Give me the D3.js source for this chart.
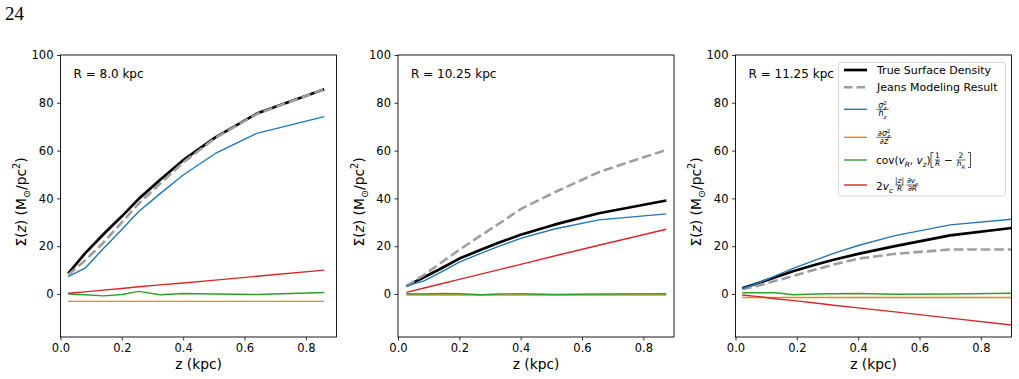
<!DOCTYPE html>
<html>
<head>
<meta charset="utf-8">
<script src="https://cdn.jsdelivr.net/npm/d3@7"></script>
<style>
  body { margin: 0; background: #fff; }
  svg { display: block; font-family: "DejaVu Sans", sans-serif; }
</style>
</head>
<body>
<div id="chart"></div>
<script>
// values, one set of arrays per panel
const z8 = [0.025, 0.08, 0.14, 0.2, 0.255, 0.325, 0.4, 0.505, 0.64, 0.86];
const true8 = [8.5, 17, 25, 32.5, 39.8, 47.8, 56, 65.5, 75.5, 85.7];
const jeans8 = [8, 14, 21.5, 30, 37.8, 46.2, 55, 65.3, 75.3, 85.7];
const sigma8 = [7.3, 10.8, 19, 27, 34.5, 42, 49.8, 58.8, 67.2, 74.2];
const dsig8 = [-3.1, -3.1, -3.1, -3.1, -3.1, -3.1, -3.1, -3.1, -3.1, -3.1];
const cov8 = [0, -0.3, -0.8, -0.2, 1.1, -0.3, 0.2, 0, -0.2, 0.6];
const vc8 = [0.3, 0.9, 1.6, 2.3, 3.0, 3.8, 4.6, 5.8, 7.4, 10.0];

const z10 = [0.027, 0.085, 0.145, 0.2, 0.27, 0.33, 0.4, 0.51, 0.655, 0.875];
const true10 = [3.3, 7, 11, 14.8, 18.5, 21.5, 24.8, 29, 33.8, 39.1];
const jeans10 = [3.3, 8, 13.5, 18.5, 24.5, 29.5, 35.5, 42.5, 51, 60.3];
const sigma10 = [3.3, 5.5, 9.5, 13.3, 17, 20, 23.3, 27.2, 31, 33.5];
const dsig10 = [-0.4, -0.4, -0.4, -0.4, -0.4, -0.4, -0.4, -0.4, -0.4, -0.4];
const cov10 = [0.1, 0, 0.2, 0.1, -0.3, 0, 0.1, -0.2, 0, 0.1];
const vc10 = [0.7, 2.5, 4.4, 6.1, 8.3, 10.2, 12.4, 15.9, 20.4, 27.1];

const z11 = [0.022, 0.075, 0.13, 0.19, 0.26, 0.32, 0.4, 0.52, 0.7, 0.9];
const true11 = [2.4, 4.6, 7, 9.6, 12.2, 14.3, 16.8, 20, 24.5, 27.6];
const jeans11 = [2.0, 3.5, 5.5, 7.6, 10.2, 12.3, 14.8, 16.8, 18.6, 18.6];
const sigma11 = [2.2, 4.6, 7.6, 10.8, 14.2, 17, 20.3, 24.4, 28.9, 31.3];
const dsig11 = [-1.5, -1.5, -1.5, -1.5, -1.5, -1.5, -1.5, -1.5, -1.5, -1.5];
const cov11 = [0.5, 0.5, 0.5, -0.3, 0, 0.1, 0.2, -0.1, 0, 0.3];
const vc11 = [-0.4, -1.1, -2.0, -2.8, -3.8, -4.7, -5.8, -7.5, -10.1, -13.0];

const panelLabels = ["R = 8.0 kpc", "R = 10.25 kpc", "R = 11.25 kpc"];
const xTicks = [0, 0.2, 0.4, 0.6, 0.8];
const yTicks = [0, 20, 40, 60, 80, 100];

const panels = [
  { label: panelLabels[0], z: z8, series: [true8, jeans8, sigma8, dsig8, cov8, vc8] },
  { label: panelLabels[1], z: z10, series: [true10, jeans10, sigma10, dsig10, cov10, vc10] },
  { label: panelLabels[2], z: z11, series: [true11, jeans11, sigma11, dsig11, cov11, vc11] },
];

// line styles, in legend order
const styles = [
  { color: "#000000", width: 2.7, dash: null },
  { color: "#9e9e9e", width: 2.6, dash: "9.5,4" },
  { color: "#1f77b4", width: 1.4, dash: null },
  { color: "#ff7f0e", width: 1.4, dash: null },
  { color: "#2ca02c", width: 1.4, dash: null },
  { color: "#d62728", width: 1.4, dash: null },
];

const W = 1019, H = 379;
const axLefts = [60.5, 398, 735.5];
const axTop = 55, axW = 276, axH = 282;

const svg = d3.select("#chart").append("svg").attr("width", W).attr("height", H);

svg.append("text")
  .attr("x", 5).attr("y", 20)
  .style("font-family", "'Liberation Serif', serif")
  .attr("font-size", 19)
  .text("24");

// small mathtext-like helper: parts = [text, kind, dx]
function addMath(g, x, y, size, parts, anchor) {
  const t = g.append("text")
    .attr("x", x).attr("y", y)
    .attr("font-size", size)
    .attr("text-anchor", anchor || "start");
  let shift = 0;
  parts.forEach(p => {
    const str = p[0], kind = p[1] || "";
    const isSub = kind.includes("sub"), isSup = kind.includes("sup");
    const target = isSub ? size * 0.3 : isSup ? -size * 0.4 : 0;
    const s = t.append("tspan").attr("dy", target - shift).text(str);
    shift = target;
    if (isSub || isSup) s.attr("font-size", size * 0.7);
    if (kind.includes("i")) s.attr("font-style", "italic");
    if (p[2]) s.attr("dx", p[2]);
  });
  return t;
}

function addFrac(g, cx, cy, w, size, num, den) {
  addMath(g, cx, cy - 1.6, size, num, "middle");
  addMath(g, cx, cy + size * 0.85, size, den, "middle");
  g.append("line")
    .attr("x1", cx - w / 2).attr("x2", cx + w / 2)
    .attr("y1", cy).attr("y2", cy)
    .attr("stroke", "#000").attr("stroke-width", 0.6);
}

panels.forEach((p, i) => {
  const left = axLefts[i];
  const g = svg.append("g").attr("transform", `translate(${left},${axTop})`);

  const x = d3.scaleLinear().domain([0, 0.9]).range([0, axW]);
  const y = d3.scaleLinear().domain([-18, 100]).range([axH, 0]);

  g.append("clipPath").attr("id", `clip${i}`)
    .append("rect").attr("width", axW).attr("height", axH);

  const line = d3.line()
    .x(d => x(d[0]))
    .y(d => y(d[1]));

  const plot = g.append("g").attr("clip-path", `url(#clip${i})`);
  p.series.forEach((vals, k) => {
    const st = styles[k];
    plot.append("path")
      .datum(p.z.map((zz, j) => [zz, vals[j]]))
      .attr("d", line)
      .attr("fill", "none")
      .attr("stroke", st.color)
      .attr("stroke-width", st.width)
      .attr("stroke-dasharray", st.dash)
      .attr("stroke-linejoin", "round");
  });

  // axes
  const xAxis = g.append("g")
    .attr("transform", `translate(0,${axH})`)
    .call(d3.axisBottom(x).tickValues(xTicks).tickFormat(d3.format(".1f"))
      .tickSize(3.5).tickPadding(3.5).tickSizeOuter(0));
  const yAxis = g.append("g")
    .call(d3.axisLeft(y).tickValues(yTicks).tickFormat(d3.format("d"))
      .tickSize(3.5).tickPadding(3.5).tickSizeOuter(0));
  [xAxis, yAxis].forEach(a => {
    a.select(".domain").remove();
    a.selectAll("text").attr("font-size", 11.5).attr("fill", "#000")
      .style("font-family", "'DejaVu Sans', sans-serif");
    a.selectAll("line").attr("stroke", "#000").attr("stroke-width", 0.8);
  });

  g.append("rect")
    .attr("width", axW).attr("height", axH)
    .attr("fill", "none").attr("stroke", "#000").attr("stroke-width", 0.9);

  g.append("text")
    .attr("x", 13).attr("y", 23)
    .attr("font-size", 12)
    .text(p.label);

  // axis labels
  addMath(g, axW / 2, 314, 13.8, [["z", ""], [" (kpc)", ""]], "middle");
  const yl = g.append("g").attr("transform", `translate(${-34.5},${147}) rotate(-90)`);
  addMath(yl, 0, 0, 13.8, [["Σ(", ""], ["z", "i"], [") (M", ""], ["⊙", "sub"], ["/pc", ""], ["2", "sup"], [")", ""]], "middle");
});

// legend in the third panel
const lg = svg.append("g");
lg.append("rect")
  .attr("x", 838.5).attr("y", 62.5).attr("width", 167).attr("height", 133.5)
  .attr("rx", 2.5)
  .attr("fill", "#fff").attr("fill-opacity", 0.8)
  .attr("stroke", "#d4d4d4").attr("stroke-width", 0.9);

const rowsY = [70, 87.3, 109.3, 137.3, 160, 185];
rowsY.forEach((ry, k) => {
  const st = styles[k];
  lg.append("line")
    .attr("x1", 844).attr("x2", 867).attr("y1", ry).attr("y2", ry)
    .attr("stroke", st.color)
    .attr("stroke-width", st.width)
    .attr("stroke-dasharray", st.dash ? "8.5,4" : null);
});

lg.append("text").attr("x", 877).attr("y", rowsY[0] + 4).attr("font-size", 11).text("True Surface Density");
lg.append("text").attr("x", 877).attr("y", rowsY[1] + 4).attr("font-size", 11).text("Jeans Modeling Result");

addFrac(lg, 882.5, rowsY[2], 12.5, 8,
  [["σ", "i"], ["z", "isub"], ["2", "sup", -3.2]],
  [["h", "i"], ["z", "isub"]]);

addFrac(lg, 884, rowsY[3], 15.5, 8,
  [["∂", ""], ["σ", "i"], ["z", "isub"], ["2", "sup", -3.2]],
  [["∂", ""], ["z", "i"]]);

// cov row
addMath(lg, 876, rowsY[4] + 4, 10.5,
  [["cov(", ""], ["v", "i"], ["R", "isub"], [", ", ""], ["v", "i"], ["z", "isub"], [")", ""]]);
const bracket = (bx, dir) => {
  lg.append("path")
    .attr("d", `M${bx + dir * 2.5},152.5 H${bx} V167.5 H${bx + dir * 2.5}`)
    .attr("fill", "none").attr("stroke", "#000").attr("stroke-width", 0.7);
};
bracket(931, 1);
addFrac(lg, 937.5, rowsY[4], 5, 7.5, [["1", ""]], [["R", "i"]]);
addMath(lg, 948.5, rowsY[4] + 4, 10.5, [["−", ""]], "middle");
addFrac(lg, 961, rowsY[4], 9, 7.5, [["2", ""]], [["h", "i"], ["R", "isub"]]);
bracket(970.5, -1);

// 2 v_c row
addMath(lg, 876, rowsY[5] + 5, 10.5, [["2", ""], ["v", "i"], ["c", "isub"]]);
addFrac(lg, 899.5, rowsY[5], 8, 7.5, [["|", ""], ["z", "i"], ["|", ""]], [["R", "i"]]);
addFrac(lg, 912.5, rowsY[5], 12, 7.5, [["∂", ""], ["v", "i"], ["c", "isub"]], [["∂", ""], ["R", "i"]]);
</script>
</body>
</html>
